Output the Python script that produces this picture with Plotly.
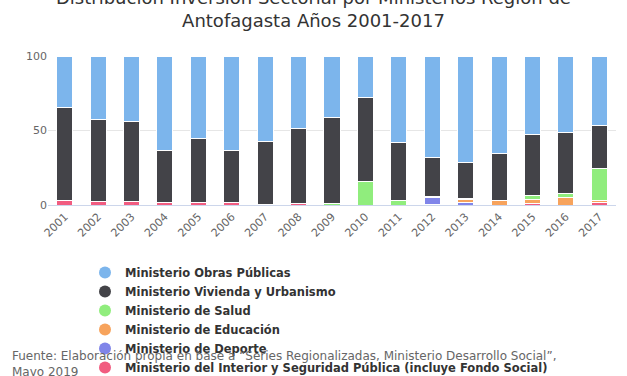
import plotly.graph_objects as go

years = [str(y) for y in range(2001, 2018)]

obras     = [34.4, 42.9, 43.7, 63.2, 55.6, 63.2, 57.6, 48.7, 41.3, 28.1, 58.3, 68.1, 71.7, 65.4, 52.9, 51.6, 46.4]
vivienda  = [62.3, 54.9, 54.1, 35.3, 42.9, 35.3, 42.1, 50.3, 57.5, 55.8, 39.0, 26.3, 24.0, 31.3, 40.4, 41.0, 29.0]
salud     = [0, 0, 0, 0, 0, 0, 0, 0, 1.2, 16.1, 2.7, 0, 0.5, 0, 2.9, 2.2, 21.3]
educacion = [0, 0, 0, 0, 0, 0, 0, 0, 0, 0, 0, 0.3, 2.0, 3.3, 2.8, 5.2, 1.8]
deporte   = [0, 0, 0, 0, 0, 0, 0, 0, 0, 0, 0, 4.8, 1.8, 0, 0, 0, 0]
interior  = [3.3, 2.2, 2.2, 1.5, 1.5, 1.5, 0.3, 1.0, 0, 0, 0, 0.5, 0, 0, 1.0, 0, 1.5]

names = [
    "Ministerio Obras Públicas",
    "Ministerio Vivienda y Urbanismo",
    "Ministerio de Salud",
    "Ministerio de Educación",
    "Ministerio de Deporte",
    "Ministerio del Interior y Seguridad Pública (incluye Fondo Social)",
]
colors = ["#7cb5ec", "#434348", "#90ed7d", "#f7a35c", "#8085e9", "#f15c80"]
series = [obras, vivienda, salud, educacion, deporte, interior]

title_text = "Distribución Inversión Sectorial por Ministerios Región de<br>Antofagasta Años 2001-2017"
caption_text = "Fuente: Elaboración propia en base a “Series Regionalizadas, Ministerio Desarrollo Social”,<br>Mayo 2019"

FONT = "DejaVu Sans"
fig = go.Figure()

# stacked bars: bottom-most (last series) first
for name, col, vals in reversed(list(zip(names, colors, series))):
    fig.add_trace(go.Bar(
        x=years, y=vals, name=name, marker=dict(color=col, line=dict(color="#ffffff", width=1)),
        showlegend=False,
    ))

# legend entries with circle symbols
for name, col in zip(names, colors):
    fig.add_trace(go.Scatter(
        x=[None], y=[None], mode="markers", name=name,
        marker=dict(color=col, size=12, symbol="circle"),
    ))

W, H = 627, 376
L, R, T, B = 48, 11, 56, 171
ph = H - T - B
pw = W - L - R

def py(pix):
    return (H - B - pix) / ph

def px(pix):
    return (pix - L) / pw

fig.update_layout(
    width=W, height=H,
    margin=dict(l=L, r=R, t=T, b=B, pad=0, autoexpand=False),
    barmode="stack",
    bargap=0.52,
    plot_bgcolor="#ffffff",
    paper_bgcolor="#ffffff",
    font=dict(family=FONT, color="#333333"),
    xaxis=dict(
        tickangle=-45, tickfont=dict(size=11, color="#666666"),
        showgrid=False, showline=True, linecolor="#ccd6eb", linewidth=1,
        ticks="", fixedrange=True,
    ),
    yaxis=dict(
        range=[0, 100], tickvals=[0, 50, 100], tickfont=dict(size=11, color="#666666"),
        showgrid=True, gridcolor="#e6e6e6", zeroline=False, ticks="", fixedrange=True,
    ),
    legend=dict(
        orientation="v", x=px(85), xanchor="left", y=py(258), yanchor="top",
        traceorder="normal",
        font=dict(family=FONT, size=11.5, color="#333333", weight="bold"),
        itemsizing="trace", tracegroupgap=0, bgcolor="rgba(0,0,0,0)",
    ),
    annotations=[
        dict(
            text=title_text, xref="paper", yref="paper",
            x=px(313.5), y=py(9.5), xanchor="center", yanchor="middle", align="center",
            showarrow=False, font=dict(family=FONT, size=18, color="#333333"),
        ),
        dict(
            text=caption_text, xref="paper", yref="paper",
            x=px(10), y=py(347), xanchor="left", yanchor="top", align="left",
            showarrow=False, font=dict(family=FONT, size=12, color="#666666"),
        ),
    ],
)

fig.write_html(
    "out.html",
    config={"displayModeBar": False},
    post_script="document.body.style.margin='0';document.body.style.padding='0';document.body.style.overflow='hidden';",
)
